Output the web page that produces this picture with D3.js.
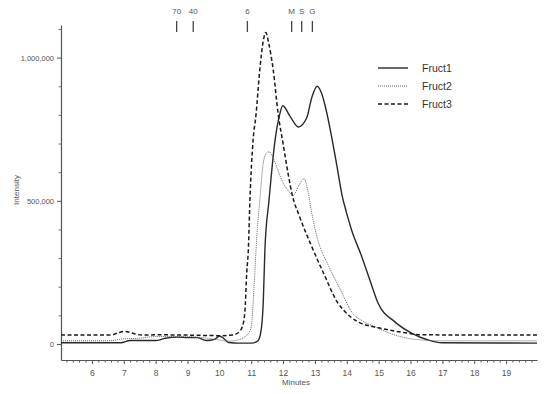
<!DOCTYPE html>
<html>
<head>
<meta charset="utf-8">
<script src="https://cdn.jsdelivr.net/npm/d3@7"></script>
<style>
  body { margin: 0; background: #fff; }
  text { font-family: "Liberation Sans", Arial, sans-serif; }
</style>
</head>
<body>
<div id="chart"></div>
<script>
// [minutes, intensity]
const fruct1 = [[5.03,4000],[6,4000],[6.9,4000],[7.2,12000],[8,12000],[8.3,20000],[8.7,24000],[9.0,22000],[9.3,22000],[9.6,12000],[9.85,16000],[10.0,28000],[10.15,18000],[10.3,5000],[10.6,3000],[11.0,3000],[11.2,10000],[11.3,40000],[11.38,150000],[11.43,330000],[11.56,503000],[11.75,713000],[11.88,795000],[11.99,832000],[12.22,795000],[12.48,758000],[12.74,789000],[12.9,860000],[13.07,900000],[13.2,878000],[13.35,818000],[13.53,720000],[13.7,615000],[13.85,520000],[14.0,455000],[14.15,398000],[14.47,305000],[14.74,218000],[14.98,143000],[15.5,78000],[16.03,38000],[16.55,14000],[16.98,4000],[19.97,3000]]
const fruct2 = [[5.03,11000],[6.5,11000],[7.0,18000],[7.5,20000],[8,26000],[9,26000],[9.5,22000],[10,14000],[10.3,10000],[10.58,14000],[10.8,25000],[10.9,35000],[11.0,60000],[11.1,220000],[11.17,364000],[11.28,515000],[11.38,633000],[11.47,665000],[11.56,671000],[11.65,660000],[11.75,633000],[12.0,563000],[12.2,530000],[12.31,517000],[12.48,550000],[12.66,577000],[12.79,527000],[12.9,457000],[13.1,360000],[13.42,275000],[13.84,180000],[14.15,112000],[14.5,80000],[14.88,60000],[15.51,31000],[16.14,16000],[17,11000],[19.97,11000]]
const fruct3 = [[5.03,31000],[6.5,31000],[6.7,34000],[6.85,40000],[7.0,44000],[7.15,42000],[7.35,35000],[7.6,31000],[8,32000],[9,31000],[10,29000],[10.4,31000],[10.6,40000],[10.72,60000],[10.8,110000],[10.86,250000],[10.91,329000],[10.96,503000],[11.06,713000],[11.15,800000],[11.27,958000],[11.38,1060000],[11.46,1088000],[11.55,1050000],[11.69,958000],[11.85,800000],[12.0,700000],[12.15,600000],[12.3,515000],[12.5,450000],[12.9,340000],[13.3,240000],[13.72,143000],[13.9,118000],[14.35,77000],[14.9,59000],[15.5,45000],[15.9,38000],[16.3,32000],[19.97,31000]]

const seriesNames = ['Fruct1', 'Fruct2', 'Fruct3']
const markerLabels = ['70', '40', '6', 'M', 'S', 'G']
const markerMinutes = [8.66, 9.18, 10.88, 12.27, 12.585, 12.92]
const yTickValues = [0, 500000, 1000000]
const xTickValues = [6, 7, 8, 9, 10, 11, 12, 13, 14, 15, 16, 17, 18, 19]

const W = 550, H = 394
const plotLeft = 61, plotRight = 537, plotTop = 25, plotBottom = 360

const svg = d3.select('#chart').append('svg')
  .attr('width', W)
  .attr('height', H)

const x = d3.scaleLinear().domain([5.03, 19.97]).range([plotLeft, plotRight])
const y = d3.scaleLinear().domain([-56000, 1114000]).range([plotBottom, plotTop])

// x axis with minor ticks
const xMinor = d3.range(5.2, 19.95, 0.2).filter(v => Math.abs(v - Math.round(v)) > 0.01)
svg.append('g')
  .attr('transform', 'translate(0,' + plotBottom + ')')
  .call(d3.axisBottom(x).tickValues(xMinor).tickSize(2.5).tickFormat('').tickSizeOuter(0))
  .call(g => g.select('.domain').remove())
  .selectAll('line').attr('stroke', '#555')
svg.append('g')
  .attr('transform', 'translate(0,' + plotBottom + ')')
  .call(d3.axisBottom(x).tickValues(xTickValues).tickSize(4).tickSizeOuter(0).tickPadding(6).tickFormat(d3.format('d')))
  .call(g => g.select('.domain').attr('stroke', '#555').attr('stroke-width', 1.2))
  .call(g => g.selectAll('line').attr('stroke', '#555'))
  .call(g => g.selectAll('text').attr('fill', '#555').attr('font-size', 8.5)
    .attr('font-family', '"Liberation Sans", Arial, sans-serif'))

svg.append('text')
  .attr('x', 296).attr('y', 385)
  .attr('text-anchor', 'middle')
  .attr('fill', '#555').attr('font-size', 8)
  .text('Minutes')

// y axis with minor ticks
const yMinor = d3.range(100000, 1100001, 100000).filter(v => v % 500000 !== 0)
svg.append('g')
  .attr('transform', 'translate(' + plotLeft + ',0)')
  .call(d3.axisLeft(y).tickValues(yMinor).tickSize(2.5).tickFormat('').tickSizeOuter(0))
  .call(g => g.select('.domain').remove())
  .selectAll('line').attr('stroke', '#777')
svg.append('g')
  .attr('transform', 'translate(' + plotLeft + ',0)')
  .call(d3.axisLeft(y).tickValues(yTickValues).tickSize(4).tickSizeOuter(0).tickPadding(3).tickFormat(d3.format(',')))
  .call(g => g.select('.domain').attr('stroke', '#555').attr('stroke-width', 1.2))
  .call(g => g.selectAll('line').attr('stroke', '#555'))
  .call(g => g.selectAll('text').attr('fill', '#555').attr('font-size', 7.5)
    .attr('font-family', '"Liberation Sans", Arial, sans-serif'))

svg.append('text')
  .attr('transform', 'translate(19,190) rotate(-90)')
  .attr('text-anchor', 'middle')
  .attr('fill', '#555').attr('font-size', 8)
  .text('Intensity')

// top markers
const markers = svg.append('g')
markers.selectAll('line').data(markerMinutes).enter().append('line')
  .attr('x1', d => x(d)).attr('x2', d => x(d))
  .attr('y1', 21).attr('y2', 32)
  .attr('stroke', '#444').attr('stroke-width', 1.3)
markers.selectAll('text').data(markerLabels).enter().append('text')
  .attr('x', (d, i) => x(markerMinutes[i]))
  .attr('y', 13.5)
  .attr('text-anchor', 'middle')
  .attr('fill', '#555').attr('font-size', 8)
  .text(d => d)

// lines
const styles = [
  { data: fruct1, stroke: '#2a2a2a', width: 1.4, dash: null },
  { data: fruct2, stroke: '#666', width: 1, dash: '1,1' },
  { data: fruct3, stroke: '#1a1a1a', width: 1.5, dash: '4,2.5' }
]
const line = d3.line()
  .x(d => x(d[0]))
  .y(d => y(d[1]))
  .curve(d3.curveMonotoneX)

svg.append('g').selectAll('path').data(styles).enter().append('path')
  .attr('d', d => line(d.data))
  .attr('fill', 'none')
  .attr('stroke', d => d.stroke)
  .attr('stroke-width', d => d.width)
  .attr('stroke-dasharray', d => d.dash)

// legend
const legend = svg.append('g')
seriesNames.forEach((name, i) => {
  const ly = 68 + i * 18
  legend.append('line')
    .attr('x1', 378).attr('x2', 408)
    .attr('y1', ly).attr('y2', ly)
    .attr('stroke', styles[i].stroke)
    .attr('stroke-width', styles[i].width)
    .attr('stroke-dasharray', styles[i].dash)
  legend.append('text')
    .attr('x', 422).attr('y', ly + 4)
    .attr('fill', '#333').attr('font-size', 10.5)
    .text(name)
})
</script>
</body>
</html>
